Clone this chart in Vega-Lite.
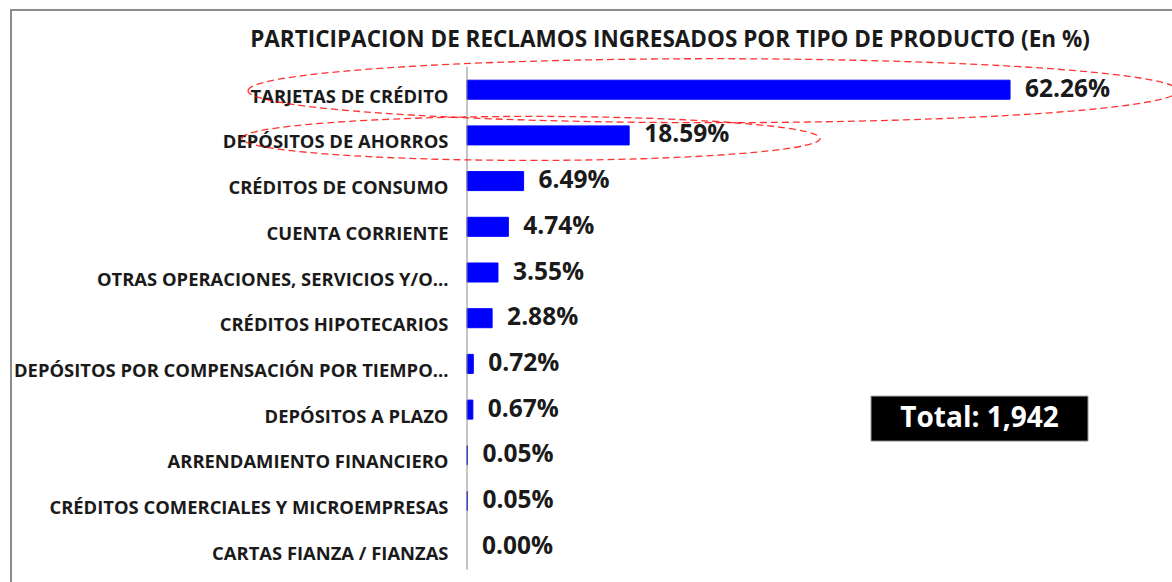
{
  "$schema": "https://vega.github.io/schema/vega-lite/v6.json",
  "width": 1166,
  "height": 577,
  "autosize": {"type": "none"},
  "padding": {"left": 11, "top": 10, "right": 0, "bottom": 0},
  "background": "white",
  "config": {"view": {"stroke": "#8c8c8c", "strokeWidth": 2}, "font": "Open Sans"},
  "title": {
    "text": "PARTICIPACION DE RECLAMOS INGRESADOS POR TIPO DE PRODUCTO (En %)",
    "font": "Open Sans", "fontSize": 22.5, "fontWeight": "bold", "color": "#1a1a1a",
    "anchor": "middle", "frame": "group", "dx": 76, "offset": -59, "baseline": "alphabetic"
  },
  "datasets": {
    "productos": [
      {"producto": "TARJETAS DE CRÉDITO", "participacion": 0.6226},
      {"producto": "DEPÓSITOS DE AHORROS", "participacion": 0.1859},
      {"producto": "CRÉDITOS DE CONSUMO", "participacion": 0.0649},
      {"producto": "CUENTA CORRIENTE", "participacion": 0.0474},
      {"producto": "OTRAS OPERACIONES, SERVICIOS Y/O…", "participacion": 0.0355},
      {"producto": "CRÉDITOS HIPOTECARIOS", "participacion": 0.0288},
      {"producto": "DEPÓSITOS POR COMPENSACIÓN POR TIEMPO…", "participacion": 0.0072},
      {"producto": "DEPÓSITOS A PLAZO", "participacion": 0.0067},
      {"producto": "ARRENDAMIENTO FINANCIERO", "participacion": 0.0005},
      {"producto": "CRÉDITOS COMERCIALES Y MICROEMPRESAS", "participacion": 0.0005},
      {"producto": "CARTAS FIANZA / FIANZAS", "participacion": 0.0}
    ],
    "total": [{"etiqueta": "Total: 1,942"}]
  },
  "layer": [
    {
      "data": {"name": "productos"},
      "mark": {"type": "bar", "color": "#0000FF", "stroke": "#0000FF", "strokeWidth": 1},
      "encoding": {
        "y": {
          "field": "producto", "type": "nominal", "sort": null,
          "scale": {
            "domain": ["TARJETAS DE CRÉDITO", "DEPÓSITOS DE AHORROS", "CRÉDITOS DE CONSUMO", "CUENTA CORRIENTE", "OTRAS OPERACIONES, SERVICIOS Y/O…", "CRÉDITOS HIPOTECARIOS", "DEPÓSITOS POR COMPENSACIÓN POR TIEMPO…", "DEPÓSITOS A PLAZO", "ARRENDAMIENTO FINANCIERO", "CRÉDITOS COMERCIALES Y MICROEMPRESAS", "CARTAS FIANZA / FIANZAS"],
            "range": [56.85, 559.55],
            "paddingInner": 0.584, "paddingOuter": 0.292
          },
          "axis": {
            "title": null, "orient": "left", "offset": -456, "domain": false, "ticks": false, "grid": false,
            "labelPadding": 19, "labelOffset": 7, "labelLimit": 600, "labelFont": "Open Sans", "labelFontSize": 18.4,
            "labelFontWeight": "bold", "labelColor": "#1a1a1a"
          }
        },
        "x": {
          "field": "participacion", "type": "quantitative",
          "scale": {"domain": [-0.52282, 0.81403], "nice": false, "zero": false},
          "axis": null
        },
        "x2": {"datum": 0},
        "strokeOpacity": {"condition": {"test": "datum.participacion > 0", "value": 1}, "value": 0}
      }
    },
    {
      "data": {"values": [{}]},
      "mark": {"type": "rule", "color": "#8a8a8a", "strokeWidth": 1, "yOffset": -23, "y2Offset": 23},
      "encoding": {
        "x": {"datum": 0, "type": "quantitative"},
        "y": {"datum": "TARJETAS DE CRÉDITO", "type": "nominal"},
        "y2": {"datum": "CARTAS FIANZA / FIANZAS"}
      }
    },
    {
      "data": {"name": "productos"},
      "mark": {"type": "text", "align": "left", "baseline": "middle", "dx": 15, "font": "Open Sans", "fontSize": 24.5, "fontWeight": "bold", "color": "#1a1a1a"},
      "encoding": {
        "y": {"field": "producto", "type": "nominal"},
        "x": {"field": "participacion", "type": "quantitative"},
        "text": {"field": "participacion", "type": "quantitative", "format": ".2%"}
      }
    },
    {
      "data": {"values": [{}]},
      "mark": {
        "type": "point", "shape": "M-1,0 A1,0.0688 0 1,1 1,0 A1,0.0688 0 1,1 -1,0 Z",
        "size": 864900, "filled": false, "stroke": "#ff0000", "strokeWidth": 1.3,
        "strokeDash": [7, 4], "opacity": 0.8, "yOffset": 1
      },
      "encoding": {
        "x": {"datum": 0.2821, "type": "quantitative"},
        "y": {"datum": "TARJETAS DE CRÉDITO", "type": "nominal"}
      }
    },
    {
      "data": {"values": [{}]},
      "mark": {
        "type": "point", "shape": "M-1,0 A1,0.0761 0 1,1 1,0 A1,0.0761 0 1,1 -1,0 Z",
        "size": 334084, "filled": false, "stroke": "#ff0000", "strokeWidth": 1.3,
        "strokeDash": [7, 4], "opacity": 0.8, "yOffset": 3
      },
      "encoding": {
        "x": {"datum": 0.0734, "type": "quantitative"},
        "y": {"datum": "DEPÓSITOS DE AHORROS", "type": "nominal"}
      }
    },
    {
      "data": {"name": "total"},
      "mark": {
        "type": "point", "shape": "M-1,-0.2074 L1,-0.2074 L1,0.2074 L-1,0.2074 Z",
        "size": 47089, "filled": true, "color": "#000000", "opacity": 1,
        "stroke": "#9a9a9a", "strokeWidth": 1, "yOffset": 9
      },
      "encoding": {
        "x": {"datum": 0.5876, "type": "quantitative"},
        "y": {"datum": "DEPÓSITOS A PLAZO", "type": "nominal"}
      }
    },
    {
      "data": {"name": "total"},
      "mark": {"type": "text", "align": "center", "baseline": "middle", "font": "Open Sans", "fontSize": 28, "fontWeight": "bold", "color": "#ffffff", "yOffset": 9},
      "encoding": {
        "x": {"datum": 0.5876, "type": "quantitative"},
        "y": {"datum": "DEPÓSITOS A PLAZO", "type": "nominal"},
        "text": {"field": "etiqueta", "type": "nominal"}
      }
    }
  ]
}
